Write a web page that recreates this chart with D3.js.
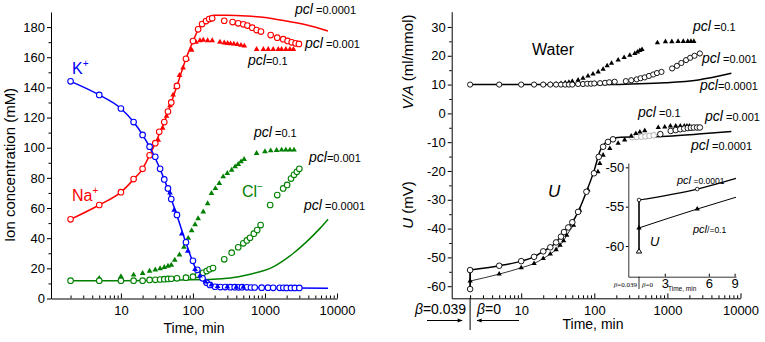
<!DOCTYPE html>
<html>
<head>
<meta charset="utf-8">
<script src="https://cdnjs.cloudflare.com/ajax/libs/d3/7.8.5/d3.min.js"></script>
<style>
  body { margin: 0; background: #fff; }
  svg { font-family: "Liberation Sans", Arial, sans-serif; }
  .tick text { font-size: 13px; }
  .axis path, .axis line { stroke: #000; }
</style>
</head>
<body>
<div id="chart"></div>
<script>
// ---- left panel: ion concentrations [time (min), mM]
const kCircles = [[2,144],[5,135],[10,126],[15,117],[20,108.5],[25,100.7],[30,94],[35,86],[40,79],[45,73],[50,66],[60,55.4],[80,37.3],[100,25],[115,19],[136,13.4],[155,10.5],[172,9],[203,7.8],[240,7.6],[280,7.6],[330,7.5],[380,7.5],[430,7.4],[480,7.5],[560,7.4],[640,7.3],[720,7.3],[900,7.2],[1100,7.2],[1300,7.1],[1600,7.1],[1800,7.1],[2000,7],[2300,7],[2600,7],[3000,7]];
const kTriangles = [[48,70],[55,58.7],[70,42.8],[85,31.5],[107,19.4],[125,15],[150,11],[180,9],[220,8],[300,7.8],[400,7.6],[500,7.6]];
const kLine = [[2,144],[5,135],[10,126],[15,117],[20,108.5],[25,100.5],[30,93],[40,79],[50,66],[60,55],[80,37],[100,24],[120,16],[150,10.5],[200,8.3],[300,7.6],[1000,7.2],[7500,6.8]];

const naCircles = [[2,52.5],[5,62],[10,70.5],[15,79.2],[20,86],[25,95],[30,103],[34,110.6],[40,117],[45,124],[50,130],[60,141],[80,159],[100,170.7],[118,178.5],[134,182],[152,184],[168,185.3],[185,185.8],[272,184.2],[355,183.3],[425,182.5],[500,181.8],[570,181],[665,179.6],[765,178],[880,177],[1200,174.7],[1480,173],[1790,172],[2060,170.8],[2350,169.9],[2660,169.2],[2960,168.8]];
const naTriangles = [[33,105],[38,113],[43,121],[48,128],[53,135],[58,140],[65,148],[73,153],[83,159],[96,164.8],[110,170],[125,171],[139,171.4],[160,171],[185,171],[237,170.1],[272,169.6],[303,169.2],[333,169],[370,168.8],[413,168.5],[464,168],[517,167.5],[765,165.2],[950,165.2],[1110,165.2],[1300,165.2],[1530,165.2],[1700,165.2],[1950,165.2],[2220,165.2],[2480,165.2]];
const naLine = [[2,52.5],[5,62],[10,70.5],[15,79],[20,86],[25,95],[30,103],[40,117],[50,130],[60,141],[80,159],[100,170.5],[120,179],[150,185],[200,187.8],[300,187.8],[560,187.3],[1000,186.3],[1620,184.7],[3800,181.4],[7500,177.4]];

const clCircles = [[2,11.8],[5,11.8],[10,11.8],[15,11.8],[20,11.8],[25,12.3],[30,12.4],[35,12.6],[40,12.8],[45,13],[50,13.1],[60,13.4],[80,13.8],[100,14.5],[118,15.6],[138,17],[155,18.2],[170,19.4],[190,20.2],[272,26],[345,30.4],[425,34],[500,36.6],[560,38.5],[620,40.3],[700,43],[780,45.4],[870,48.7],[1180,62],[1480,68.6],[1790,73],[2030,75.3],[2300,79.5],[2530,82],[2770,84],[3000,86]];
const clTriangles = [[5,13.4],[10,14.5],[15,15.6],[20,16.7],[25,18.2],[30,19],[35,19.8],[40,20.7],[45,21.5],[50,22.2],[56,25.5],[65,29],[75,34],[86,40],[96,45],[107,49],[118,53],[139,57.5],[160,63],[181,69.8],[205,73],[232,76.4],[263,80.8],[300,83],[345,85.2],[385,87.4],[425,89],[465,90.7],[513,92.3],[765,96.3],[1000,97.4],[1200,98],[1450,98.3],[1700,98.5],[1950,98.5],[2220,98.5],[2530,98.5]];
const clLine = [[2,11.8],[10,11.8],[30,12],[66,12.3],[190,12.7],[560,15.6],[1300,21],[2480,30],[3800,37.7],[5800,46.5],[7500,52.5]];

const leftYTicks = [0,20,40,60,80,100,120,140,160,180];
const xMajorTicks = [10,100,1000,10000];

// ---- right panel: water uptake V/A (ml/mmol) and potential U (mV)
const waterCircles = [[2,10],[5,10],[10,10],[15,10],[20,10],[25,10],[30,10],[35,10],[40,10],[45,10],[50,10],[60,10.2],[70,10.2],[80,10.3],[90,10.3],[100,10.4],[120,10.5],[140,10.6],[160,10.8],[190,11],[270,11.2],[320,11.5],[380,11.8],[430,12.2],[490,12.5],[560,13],[640,13.5],[720,14],[830,14.4],[1160,15.6],[1350,16.5],[1550,17.5],[1800,18.5],[2050,19.3],[2350,20],[2780,20.8]];
const waterTriangles = [[20,10],[25,10.1],[30,10.2],[35,10.4],[40,10.6],[45,10.8],[50,11.1],[60,11.6],[70,12.2],[82,13],[96,13.7],[113,14.4],[132,15.3],[150,16.5],[172,17.4],[212,18.5],[256,19.4],[306,20.2],[358,20.8],[390,21.3],[420,21.8],[450,22.2],[730,24.5],[940,24.9],[1150,24.9],[1400,25],[1650,25],[1900,25],[2100,25],[2300,25]];
const waterLine = [[2,10],[50,10],[150,10],[320,10.2],[920,10.6],[2650,11.6],[7500,13.9]];

const uCircles = [[2,-54.4],[5,-52.9],[10,-51.3],[15,-49.8],[20,-47.9],[25,-46.5],[30,-44.8],[35,-42.8],[38.5,-41.2],[44,-39.6],[50,-37.8],[60,-34.2],[78,-27.2],[99,-20.8],[115,-15.1],[132,-11.6],[154,-9.9],[180,-9],[800,-7.2],[1110,-6.1],[1300,-5.8],[1500,-5.5],[1700,-5.3],[1900,-5.1],[2100,-5],[2300,-4.9],[2550,-4.9],[2780,-4.9]];
const uGreyCircles = [[330,-8.3],[380,-8.2],[440,-8.1],[500,-8],[570,-7.8],[650,-7.6]];
const uStartCircle = [[2,-61]];
const uTriangles = [[2,-58.2],[5,-55.8],[10,-53.6],[15,-52.1],[20,-50.4],[25,-48.8],[30,-47.3],[34,-45.8],[38,-44.2],[42,-42.3],[52,-38.8],[63,-33.6],[82,-26.6],[112,-20.3],[119,-17.4],[132,-14.5],[163,-12.2],[212,-10.4],[260,-9.2],[320,-7.9],[370,-7],[420,-6.5],[490,-6],[750,-4.9],[920,-4.7],[1100,-4.4],[1300,-4.4],[1500,-4.4],[1700,-4.4],[1850,-4.4],[2000,-4.4]];
const uLine = [[2,-54.4],[5,-52.9],[10,-51.3],[15,-49.8],[20,-47.9],[30,-44.8],[40,-40.5],[50,-37.8],[60,-34.2],[78,-27.2],[100,-19.7],[120,-13],[140,-10.4],[170,-9],[230,-8.3],[400,-8.2],[1000,-7.9],[2650,-7.2],[7500,-6.3]];
const uTriLine = uTriangles.filter(d => d[0] <= 52);

const rightYTicks = [-60,-50,-40,-30,-20,-10,0,10,20,30];

// ---- inset: first minutes of U
const insetCircleLine = [[2,-54.15],[5,-52.76],[9.2,-51.4]];
const insetTriLine = [[2,-57.7],[5,-55.3],[9.2,-53.8]];
const insetOpenTri = [[2,-60.7]];
const insetYTicks = [-60,-55,-50];
const insetXTicks = [3,6,9];

const W = 765, H = 342;
const red = "#ff0000", blue = "#0000ff", green = "#008000";

const svg = d3.select("#chart").append("svg")
  .attr("width", W).attr("height", H);
svg.append("rect").attr("width", W).attr("height", H).attr("fill", "#fff");

function minorLog(domain) {
  const out = [];
  for (let p = 0; p < 4; p++)
    for (let k = 2; k <= 9; k++) {
      const v = k * Math.pow(10, p);
      if (v >= domain[0] && v <= domain[1]) out.push(v);
    }
  return out;
}

function drawAxes(g, x, y, yMajor, yMinor) {
  const bottom = y.range()[0];
  const left = x.range()[0];
  g.append("g").attr("class", "axis")
    .attr("transform", `translate(0,${bottom})`)
    .call(d3.axisBottom(x).tickValues(minorLog(x.domain())).tickSize(-3).tickFormat(""))
    .call(a => a.select(".domain").remove());
  g.append("g").attr("class", "axis")
    .attr("transform", `translate(0,${bottom})`)
    .call(d3.axisBottom(x).tickValues(xMajorTicks).tickSizeInner(-5).tickSizeOuter(0)
      .tickPadding(7).tickFormat(d => String(d)));
  g.append("g").attr("class", "axis")
    .attr("transform", `translate(${left},0)`)
    .call(d3.axisLeft(y).tickValues(yMinor).tickSize(2.5).tickFormat(""))
    .call(a => a.select(".domain").remove());
  g.append("g").attr("class", "axis")
    .attr("transform", `translate(${left},0)`)
    .call(d3.axisLeft(y).tickValues(yMajor).tickSizeInner(4).tickSizeOuter(0)
      .tickPadding(2).tickFormat(d => String(d)));
}

function drawLine(g, x, y, data, color, width) {
  g.append("path").datum(data)
    .attr("fill", "none").attr("stroke", color).attr("stroke-width", width)
    .attr("d", d3.line().x(d => x(d[0])).y(d => y(d[1])).curve(d3.curveMonotoneX));
}

function drawCircles(g, x, y, data, color, r, sw) {
  g.append("g").selectAll("circle").data(data).join("circle")
    .attr("cx", d => x(d[0])).attr("cy", d => y(d[1])).attr("r", r)
    .attr("fill", "#fff").attr("stroke", color).attr("stroke-width", sw);
}

function drawTriangles(g, x, y, data, color, size, open) {
  g.append("g").selectAll("path").data(data).join("path")
    .attr("transform", d => `translate(${x(d[0])},${y(d[1])})`)
    .attr("d", d3.symbol().type(d3.symbolTriangle).size(size)())
    .attr("fill", open ? "#fff" : color).attr("stroke", open ? color : "none");
}

function pclLabel(g, x, y, rest, big, small, color) {
  const t = g.append("text").attr("x", x).attr("y", y).attr("fill", color || "#000");
  t.append("tspan").attr("font-style", "italic").attr("font-size", big).text("pcl");
  t.append("tspan").attr("font-size", small).text(rest);
}

// ================= LEFT PANEL =================
const xL = d3.scaleLog().domain([1.07, 10000]).range([51, 337]);
const yL = d3.scaleLinear().domain([0, 190]).range([298.5, 12]);
const gL = svg.append("g");

drawAxes(gL, xL, yL, leftYTicks, d3.range(10, 190, 20));

drawLine(gL, xL, yL, clLine, green, 1.5);
drawLine(gL, xL, yL, naLine, red, 1.5);
drawLine(gL, xL, yL, kLine, blue, 1.5);

drawTriangles(gL, xL, yL, clTriangles, green, 14);
drawCircles(gL, xL, yL, clCircles, green, 2.8, 1.1);
drawTriangles(gL, xL, yL, naTriangles, red, 14);
drawCircles(gL, xL, yL, naCircles, red, 2.8, 1.1);
drawCircles(gL, xL, yL, kCircles, blue, 2.8, 1.1);
drawTriangles(gL, xL, yL, kTriangles, blue, 14);

gL.append("text").attr("transform", "translate(15,165) rotate(-90)")
  .attr("text-anchor", "middle").attr("font-size", 15).text("Ion concentration (mM)");
gL.append("text").attr("x", 194).attr("y", 333).attr("text-anchor", "middle")
  .attr("font-size", 14).text("Time, min");

function ionLabel(x, y, base, sup, color) {
  const t = gL.append("text").attr("x", x).attr("y", y).attr("fill", color).attr("font-size", 16);
  t.append("tspan").text(base);
  t.append("tspan").attr("font-size", 10).attr("dy", -7).text(sup);
}
ionLabel(72, 74, "K", "+", blue);
ionLabel(72, 201, "Na", "+", red);
ionLabel(242, 197, "Cl", "\u2212", green);

pclLabel(gL, 295, 13.5, " =0.0001", 14, 11);
pclLabel(gL, 305, 47.5, " =0.001", 14, 11);
pclLabel(gL, 248, 65, "=0.1", 14, 11);
pclLabel(gL, 254, 137, " =0.1", 14, 11);
pclLabel(gL, 309, 162, "=0.001", 14, 11);
pclLabel(gL, 304, 210, " =0.0001", 14, 11);

// ================= RIGHT PANEL =================
const xR = d3.scaleLog().domain([1.12, 10000]).range([451.7, 740.5]);
const yR = d3.scaleLinear().domain([-64.2, 35.3]).range([298.3, 11.7]);
const gR = svg.append("g");

drawAxes(gR, xR, yR, rightYTicks, d3.range(-55, 35, 10));

drawLine(gR, xR, yR, waterLine, "#000", 1.5);
drawLine(gR, xR, yR, uLine, "#000", 1.5);
drawLine(gR, xR, yR, uTriLine, "#000", 0.8);
gR.append("line")
  .attr("x1", xR(2)).attr("x2", xR(2))
  .attr("y1", yR(uCircles[0][1])).attr("y2", yR(uStartCircle[0][1]))
  .attr("stroke", "#000").attr("stroke-width", 1.8);

drawTriangles(gR, xR, yR, waterTriangles, "#000", 12);
drawCircles(gR, xR, yR, waterCircles, "#000", 2.6, 0.9);
drawCircles(gR, xR, yR, uGreyCircles, "#aaa", 2.8, 0.9);
drawTriangles(gR, xR, yR, uTriangles, "#000", 12);
drawCircles(gR, xR, yR, uCircles, "#000", 2.8, 0.9);
drawCircles(gR, xR, yR, uStartCircle, "#000", 2.8, 0.9);

// axis titles
const vaT = gR.append("text").attr("transform", "translate(413,62) rotate(-90)")
  .attr("text-anchor", "middle").attr("font-size", 15);
vaT.append("tspan").attr("font-style", "italic").text("V/A");
vaT.append("tspan").text(" (ml/mmol)");
const uT = gR.append("text").attr("transform", "translate(413,205) rotate(-90)")
  .attr("text-anchor", "middle").attr("font-size", 15);
uT.append("tspan").attr("font-style", "italic").text("U");
uT.append("tspan").text(" (mV)");
gR.append("text").attr("x", 593).attr("y", 329).attr("text-anchor", "middle")
  .attr("font-size", 14).text("Time, min");

gR.append("text").attr("x", 532).attr("y", 55).attr("font-size", 16).text("Water");
gR.append("text").attr("x", 548).attr("y", 197).attr("font-size", 17)
  .attr("font-style", "italic").text("U");

pclLabel(gR, 693, 31, " =0.1", 14, 11);
pclLabel(gR, 702, 63, " =0.001", 14, 11);
pclLabel(gR, 700, 90, "=0.0001", 14, 11);
pclLabel(gR, 638, 116.5, " =0.1", 14, 11);
pclLabel(gR, 705, 121, " =0.001", 14, 11);
pclLabel(gR, 691, 150, " =0.0001", 14, 11);

// beta annotations below the axis
const sepX = xR(2);
gR.append("line").attr("x1", sepX).attr("x2", sepX).attr("y1", 298.3).attr("y2", 330)
  .attr("stroke", "#000").attr("stroke-width", 1);
const b1 = gR.append("text").attr("x", sepX - 4).attr("y", 314).attr("text-anchor", "end").attr("font-size", 14);
b1.append("tspan").attr("font-style", "italic").text("\u03b2");
b1.append("tspan").text("=0.039");
const b2 = gR.append("text").attr("x", sepX + 7).attr("y", 314).attr("font-size", 14);
b2.append("tspan").attr("font-style", "italic").text("\u03b2");
b2.append("tspan").text("=0");

const defs = svg.append("defs");
defs.append("marker").attr("id", "ah").attr("viewBox", "0 0 10 10")
  .attr("refX", 9).attr("refY", 5).attr("markerWidth", 7).attr("markerHeight", 5)
  .attr("orient", "auto-start-reverse")
  .append("path").attr("d", "M0,1L10,5L0,9Z").attr("fill", "#000");
gR.append("line").attr("x1", 427).attr("x2", sepX - 8).attr("y1", 320.5).attr("y2", 320.5)
  .attr("stroke", "#000").attr("stroke-width", 1).attr("marker-end", "url(#ah)");
gR.append("line").attr("x1", 519).attr("x2", sepX + 7).attr("y1", 320.5).attr("y2", 320.5)
  .attr("stroke", "#000").attr("stroke-width", 1).attr("marker-end", "url(#ah)");

// ================= INSET =================
const xI = d3.scaleLog().domain([1.69, 9.2]).range([628.3, 736]);
const yI = d3.scaleLinear().domain([-63.9, -49.45]).range([276.7, 163]);
const gI = svg.append("g").attr("font-size", 7);

gI.append("g").attr("class", "axis").attr("transform", "translate(0,276.7)")
  .call(d3.axisBottom(xI).tickValues(insetXTicks).tickSizeInner(-3).tickSizeOuter(0)
    .tickPadding(2).tickFormat(d => String(d)))
  .call(a => a.selectAll("text").attr("font-size", 7));
gI.append("g").attr("class", "axis").attr("transform", "translate(628.3,0)")
  .call(d3.axisLeft(yI).tickValues(insetYTicks).tickSizeInner(2.5).tickSizeOuter(0)
    .tickPadding(1.5).tickFormat(d => String(d)))
  .call(a => a.selectAll("text").attr("font-size", 7));
gI.selectAll(".domain").attr("stroke-width", 0.8);

drawLine(gI, xI, yI, insetCircleLine, "#000", 1.2);
drawLine(gI, xI, yI, insetTriLine, "#000", 1);
gI.append("line").attr("x1", xI(2)).attr("x2", xI(2))
  .attr("y1", yI(insetCircleLine[0][1])).attr("y2", yI(insetOpenTri[0][1]))
  .attr("stroke", "#000").attr("stroke-width", 1.6);
drawCircles(gI, xI, yI, insetCircleLine.slice(0, 2), "#000", 1.8, 0.8);
drawTriangles(gI, xI, yI, insetTriLine.slice(0, 2), "#000", 12);
drawTriangles(gI, xI, yI, insetOpenTri, "#000", 12, true);

pclLabel(gI, 677, 184, " =0.0001", 11, 8.5);
pclLabel(gI, 693, 233, "/=0.1", 11, 8.5);
gI.append("text").attr("x", 650).attr("y", 246).attr("font-size", 13)
  .attr("font-style", "italic").text("U");

const iSep = xI(2);
gI.append("line").attr("x1", iSep).attr("x2", iSep).attr("y1", 276.7).attr("y2", 289)
  .attr("stroke", "#000").attr("stroke-width", 0.8);
const ib1 = gI.append("text").attr("x", iSep - 2).attr("y", 287).attr("text-anchor", "end")
  .attr("font-family", "Liberation Serif, serif").attr("font-size", 7);
ib1.append("tspan").attr("font-style", "italic").text("\u03b2");
ib1.append("tspan").text("=0.039");
const ib2 = gI.append("text").attr("x", iSep + 3).attr("y", 287)
  .attr("font-family", "Liberation Serif, serif").attr("font-size", 7);
ib2.append("tspan").attr("font-style", "italic").text("\u03b2");
ib2.append("tspan").text("=0");
gI.append("text").attr("x", 668).attr("y", 291).attr("font-size", 6.5).text("Time, min");
</script>
</body>
</html>
